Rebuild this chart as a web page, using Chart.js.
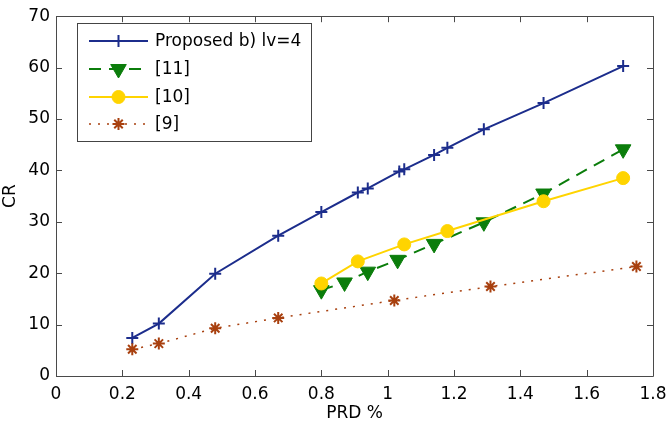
<!DOCTYPE html>
<html>
<head>
<meta charset="utf-8">
<script src="https://cdn.jsdelivr.net/npm/chart.js@4.4.1/dist/chart.umd.min.js"></script>
<style>
  html, body { margin: 0; padding: 0; background: #fff; }
  #wrap { width: 666px; height: 424px; }
</style>
</head>
<body>
<div id="wrap"><canvas id="crChart" width="666" height="424"></canvas></div>
<script>
// values
const seriesNames = ["Proposed b) lv=4", "[11]", "[10]", "[9]"];

const prdProposed = [0.23, 0.31, 0.48, 0.67, 0.80, 0.91, 0.94, 1.035, 1.05, 1.14, 1.18, 1.29, 1.47, 1.71];
const crProposed  = [7.4, 10.2, 19.9, 27.3, 31.9, 35.7, 36.5, 39.8, 40.2, 43.0, 44.4, 48.0, 53.1, 60.3];

const prdRef11 = [0.80, 0.87, 0.94, 1.03, 1.14, 1.29, 1.47, 1.71];
const crRef11  = [16.7, 18.2, 20.3, 22.6, 25.7, 29.9, 35.5, 44.1];

const prdRef10 = [0.80, 0.91, 1.05, 1.18, 1.47, 1.71];
const crRef10  = [18.0, 22.3, 25.6, 28.2, 34.0, 38.5];

const prdRef9 = [0.23, 0.31, 0.48, 0.67, 1.02, 1.31, 1.75];
const crRef9  = [5.2, 6.3, 9.3, 11.3, 14.7, 17.4, 21.3];

const xTicks = [0, 0.2, 0.4, 0.6, 0.8, 1, 1.2, 1.4, 1.6, 1.8];
const yTicks = [0, 10, 20, 30, 40, 50, 60, 70];

const FONT = "'DejaVu Sans', 'Liberation Sans', Arial, sans-serif";

const pts = (xs, ys) => xs.map((x, i) => ({ x: x, y: ys[i] }));

// matlab-ish box with inward ticks + legend inside the axes
const boxPlugin = {
  id: "matlabBox",
  afterDraw(chart) {
    const ctx = chart.ctx;
    const a = chart.chartArea;
    const xs = chart.scales.x, ys = chart.scales.y;
    const tl = 6;
    ctx.save();
    ctx.strokeStyle = "#4a4a4a";
    ctx.lineWidth = 1;
    ctx.beginPath();
    ctx.rect(Math.round(a.left) + 0.5, Math.round(a.top) + 0.5,
      Math.round(a.right - a.left), Math.round(a.bottom - a.top));
    xTicks.forEach(v => {
      const px = Math.round(xs.getPixelForValue(v)) + 0.5;
      ctx.moveTo(px, a.bottom); ctx.lineTo(px, a.bottom - tl);
      ctx.moveTo(px, a.top); ctx.lineTo(px, a.top + tl);
    });
    yTicks.forEach(v => {
      const py = Math.round(ys.getPixelForValue(v)) + 0.5;
      ctx.moveTo(a.left, py); ctx.lineTo(a.left + tl, py);
      ctx.moveTo(a.right, py); ctx.lineTo(a.right - tl, py);
    });
    ctx.stroke();

    // legend
    const lx = 77, ly = 23, lw = 234, lh = 118;
    ctx.fillStyle = "#fff";
    ctx.fillRect(lx, ly, lw, lh);
    ctx.strokeStyle = "#444";
    ctx.strokeRect(lx + 0.5, ly + 0.5, lw, lh);
    const rows = [41, 69, 97, 124];
    chart.data.datasets.forEach((ds, i) => {
      const y = rows[i];
      ctx.save();
      ctx.strokeStyle = ds.borderColor;
      ctx.lineWidth = ds.borderWidth;
      ctx.setLineDash(ds.borderDash || []);
      ctx.beginPath();
      ctx.moveTo(89, y); ctx.lineTo(148, y);
      ctx.stroke();
      ctx.restore();
      ctx.save();
      ctx.strokeStyle = ds.pointBorderColor;
      ctx.fillStyle = ds.pointBackgroundColor;
      ctx.lineWidth = ds.pointBorderWidth;
      Chart.helpers.drawPoint(ctx, {
        pointStyle: ds.pointStyle,
        radius: ds.pointRadius,
        rotation: ds.pointRotation || 0,
        borderWidth: ds.pointBorderWidth
      }, 118.5, y);
      ctx.restore();
      ctx.fillStyle = "#000";
      ctx.font = "17px " + FONT;
      ctx.textBaseline = "middle";
      ctx.textAlign = "left";
      ctx.fillText(seriesNames[i], 155, y + 1);
    });
    ctx.restore();
  }
};

new Chart(document.getElementById("crChart"), {
  type: "line",
  data: {
    datasets: [
      {
        label: seriesNames[0],
        data: pts(prdProposed, crProposed),
        borderColor: "#1c2d8c",
        borderWidth: 2,
        pointStyle: "cross",
        pointRadius: 6,
        pointBorderWidth: 2,
        pointBorderColor: "#1c2d8c",
        pointBackgroundColor: "#1c2d8c",
        order: 4
      },
      {
        label: seriesNames[1],
        data: pts(prdRef11, crRef11),
        borderColor: "#0b7d0b",
        borderWidth: 2,
        borderDash: [12, 8],
        pointStyle: "triangle",
        pointRotation: 180,
        pointRadius: 9,
        pointBorderWidth: 1,
        pointBorderColor: "#0b7d0b",
        pointBackgroundColor: "#0b7d0b",
        order: 3
      },
      {
        label: seriesNames[2],
        data: pts(prdRef10, crRef10),
        borderColor: "#ffd400",
        borderWidth: 2,
        pointStyle: "circle",
        pointRadius: 6.5,
        pointBorderWidth: 1,
        pointBorderColor: "#ffd400",
        pointBackgroundColor: "#ffd400",
        order: 2
      },
      {
        label: seriesNames[3],
        data: pts(prdRef9, crRef9),
        borderColor: "#a8400f",
        borderWidth: 1.5,
        borderDash: [2, 7],
        pointStyle: "star",
        pointRadius: 6,
        pointBorderWidth: 2,
        pointBorderColor: "#a8400f",
        pointBackgroundColor: "#a8400f",
        order: 1
      }
    ]
  },
  options: {
    responsive: false,
    animation: false,
    devicePixelRatio: 1,
    layout: { padding: { top: 7, right: 0, left: 0, bottom: 0 } },
    plugins: {
      legend: { display: false },
      tooltip: { enabled: false }
    },
    scales: {
      x: {
        type: "linear",
        min: 0,
        max: 1.8,
        afterBuildTicks: (s) => { s.ticks = xTicks.map(v => ({ value: v })); },
        afterFit: (s) => { s.height = 48; s.paddingRight = 13; },
        grid: { display: false, drawTicks: false },
        border: { display: false },
        ticks: {
          padding: 8,
          color: "#000",
          font: { family: FONT, size: 17 },
          callback: (v) => String(v)
        },
        title: {
          display: true,
          text: "PRD %",
          color: "#000",
          padding: { top: 0, bottom: 0 },
          font: { family: FONT, size: 17 }
        }
      },
      y: {
        type: "linear",
        min: 0,
        max: 70,
        afterBuildTicks: (s) => { s.ticks = yTicks.map(v => ({ value: v })); },
        afterFit: (s) => { s.width = 56; },
        grid: { display: false, drawTicks: false },
        border: { display: false },
        ticks: {
          padding: 6,
          color: "#000",
          font: { family: FONT, size: 17 },
          callback: (v) => String(v)
        },
        title: {
          display: true,
          text: "CR",
          color: "#000",
          padding: { top: 0, bottom: 0 },
          font: { family: FONT, size: 17 }
        }
      }
    }
  },
  plugins: [boxPlugin]
});
</script>
</body>
</html>
